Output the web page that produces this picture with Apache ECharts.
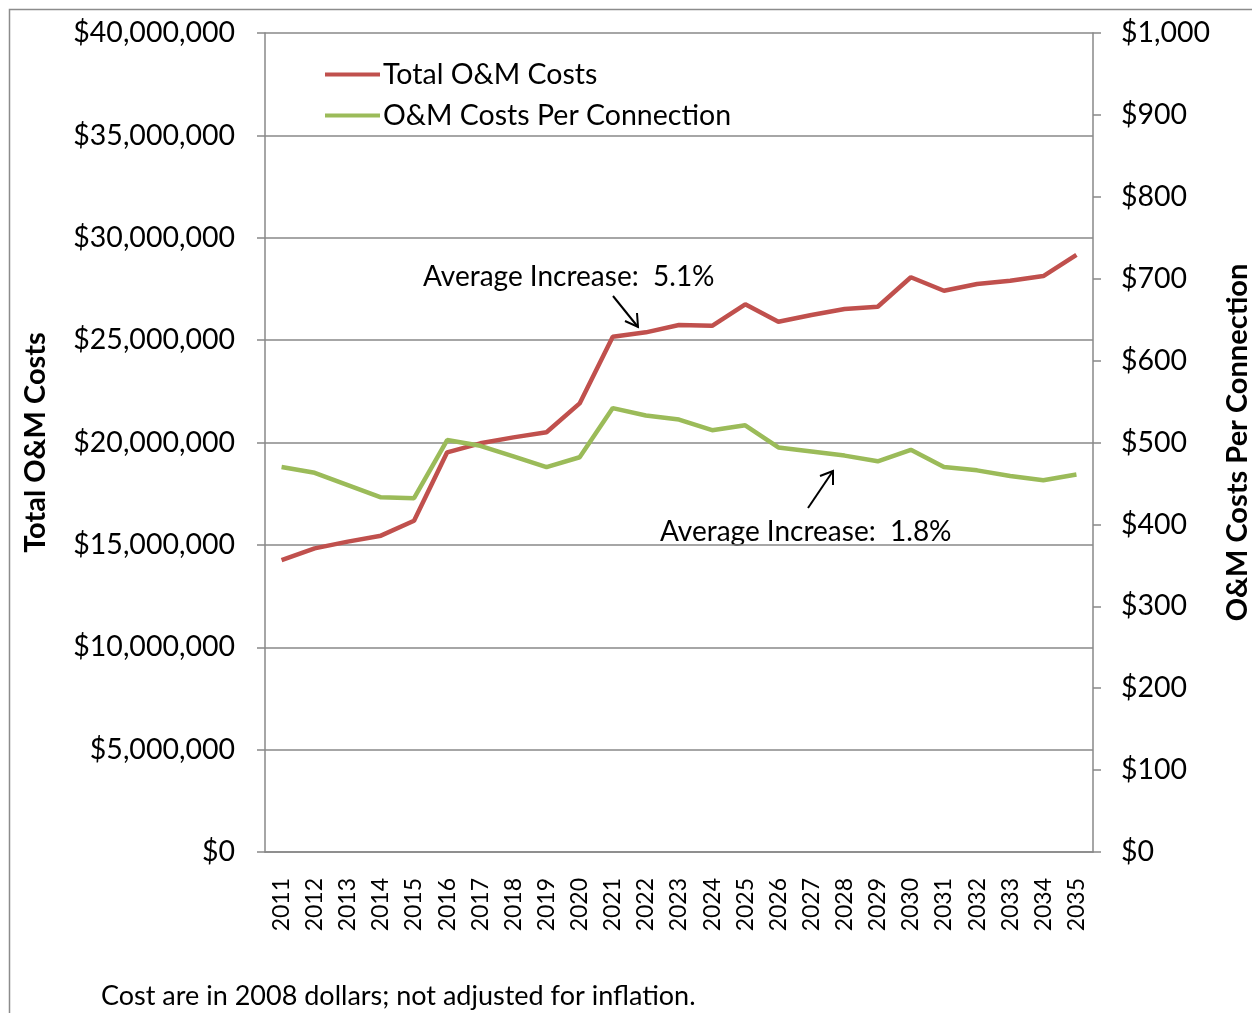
<!DOCTYPE html>
<html>
<head>
<meta charset="utf-8">
<script src="https://cdn.jsdelivr.net/npm/echarts@6/dist/echarts.min.js"></script>
<style>
	html, body { margin: 0; padding: 0; background: #fff; }
	#chart { width: 1252px; height: 1013px; }
</style>
</head>
<body>
<div id="chart"></div>
<script>
	// 年份
	var years = ['2011','2012','2013','2014','2015','2016','2017','2018','2019','2020','2021','2022','2023',
		'2024','2025','2026','2027','2028','2029','2030','2031','2032','2033','2034','2035'];
	// 总运维费用
	var totalCosts = [14260000, 14830000, 15160000, 15450000, 16180000, 19520000, 19960000, 20250000, 20500000,
		21910000, 25170000, 25380000, 25740000, 25700000, 26750000, 25900000, 26230000, 26520000, 26630000,
		28070000, 27410000, 27740000, 27900000, 28130000, 29160000];
	// 每户运维费用
	var perConnection = [470, 463, 448, 433, 432, 503, 496, 483, 470, 482, 542, 533, 528, 515, 521, 494, 489,
		484, 477, 491, 470, 466, 459, 454, 461];
	// 刻度
	var leftTicks = { min: 0, max: 40000000, interval: 5000000 };
	var rightTicks = { min: 0, max: 1000, interval: 100 };

	var font = 'Lato, "Open Sans", sans-serif';
	var red = '#C0504D', green = '#9BBB59', gridGray = '#888888';

	function money(v) {
		return '$' + v.toString().replace(/\B(?=(\d{3})+(?!\d))/g, ',');
	}

	var chart = echarts.init(document.getElementById('chart'));

	var option = {
		backgroundColor: '#fff',
		animation: false,
		textStyle: { fontFamily: font, color: '#000' },
		grid: { left: 265, right: 159, top: 33, bottom: 161, containLabel: false, outerBoundsMode: 'none' },
		legend: {
			left: 325, top: 60, padding: 0, orient: 'vertical', itemGap: 12,
			itemWidth: 55, itemHeight: 4, icon: 'rect',
			textStyle: { fontFamily: font, fontSize: 28.5, color: '#000', padding: [0, 0, 0, -2] },
			data: ['Total O&M Costs', 'O&M Costs Per Connection']
		},
		xAxis: {
			type: 'category', data: years, boundaryGap: true,
			axisLine: { lineStyle: { color: gridGray, width: 1.5 } },
			axisTick: { length: 8, lineStyle: { color: gridGray, width: 1.5 } },
			axisLabel: { rotate: 90, interval: 0, margin: 26, fontSize: 23, color: '#000', fontFamily: font }
		},
		yAxis: [{
			type: 'value', min: leftTicks.min, max: leftTicks.max, interval: leftTicks.interval,
			name: 'Total O&M Costs', nameLocation: 'middle', nameRotate: 90, nameGap: 215,
			nameTextStyle: { fontSize: 29, fontWeight: 'bold', fontFamily: font, color: '#000' },
			axisLine: { show: true, lineStyle: { color: gridGray, width: 1.5 } },
			axisTick: { show: true, length: 8, lineStyle: { color: gridGray, width: 1.5 } },
			splitLine: { lineStyle: { color: gridGray, width: 1.5 } },
			axisLabel: { fontSize: 28.5, margin: 30, color: '#000', fontFamily: font, formatter: money }
		}, {
			type: 'value', min: rightTicks.min, max: rightTicks.max, interval: rightTicks.interval,
			name: 'O&M Costs Per Connection', nameLocation: 'middle', nameRotate: 90, nameGap: 130,
			nameTextStyle: { fontSize: 29, fontWeight: 'bold', fontFamily: font, color: '#000' },
			axisLine: { show: true, lineStyle: { color: gridGray, width: 1.5 } },
			axisTick: { show: true, length: 8, lineStyle: { color: gridGray, width: 1.5 } },
			splitLine: { show: false },
			axisLabel: { fontSize: 28.5, margin: 28, color: '#000', fontFamily: font, formatter: money }
		}],
		series: [{
			name: 'Total O&M Costs', type: 'line', yAxisIndex: 0, data: totalCosts,
			symbol: 'none', color: red, lineStyle: { color: red, width: 4.5 }
		}, {
			name: 'O&M Costs Per Connection', type: 'line', yAxisIndex: 1, data: perConnection,
			symbol: 'none', color: green, lineStyle: { color: green, width: 4.5 }
		}],
		graphic: [
			// 外框
			{ type: 'rect', silent: true, shape: { x: 9.5, y: 9.5, width: 1300, height: 1100 },
				style: { fill: null, stroke: '#8c8c8c', lineWidth: 1.5 } },
			// 注释
			{ type: 'text', left: 423, top: 263,
				style: { text: 'Average Increase:  5.1%', fontSize: 28, fontFamily: font, fill: '#000' } },
			{ type: 'line', shape: { x1: 613, y1: 296, x2: 638, y2: 327 }, style: { stroke: '#000', lineWidth: 2 } },
			{ type: 'polyline', shape: { points: [[625, 321], [638, 327], [637, 313]] }, style: { stroke: '#000', lineWidth: 2, fill: null } },
			{ type: 'text', left: 660, top: 518,
				style: { text: 'Average Increase:  1.8%', fontSize: 28, fontFamily: font, fill: '#000' } },
			{ type: 'line', shape: { x1: 808, y1: 508, x2: 833, y2: 471 }, style: { stroke: '#000', lineWidth: 2 } },
			{ type: 'polyline', shape: { points: [[820, 476], [833, 471], [833, 485]] }, style: { stroke: '#000', lineWidth: 2, fill: null } },
			// 脚注
			{ type: 'text', left: 101, top: 983,
				style: { text: 'Cost are in 2008 dollars; not adjusted for inflation.', fontSize: 27, fontFamily: font, fill: '#000' } }
		]
	};

	chart.setOption(option);
</script>
</body>
</html>
